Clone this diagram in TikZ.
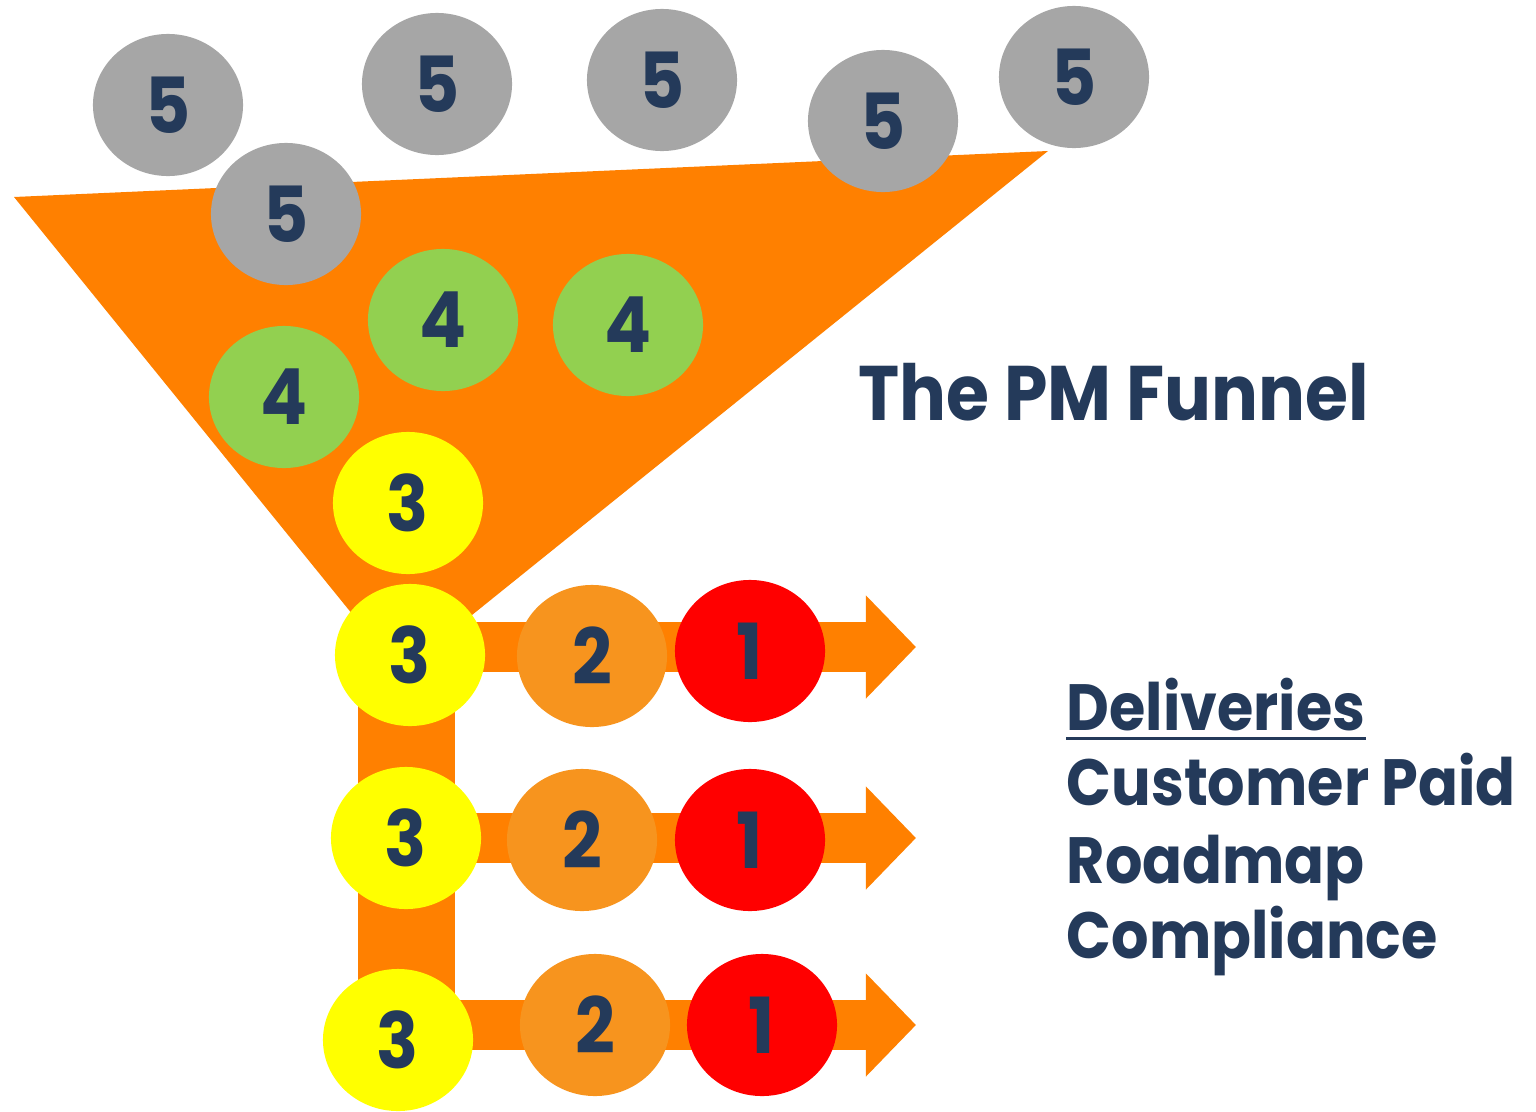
\documentclass[tikz,border=0pt]{standalone}
\usepackage{fontspec}
\setmainfont{Poppins}[FakeStretch=0.9]
\usepackage{xcolor}
\usepackage{tikz}
\usetikzlibrary{shapes.geometric,arrows.meta,backgrounds}
\definecolor{navy}{HTML}{243A5A}
\definecolor{funnelorange}{HTML}{FF8000}
\definecolor{stagegrey}{HTML}{A6A6A6}
\definecolor{stagegreen}{HTML}{92D050}
\definecolor{stageyellow}{HTML}{FFFF00}
\definecolor{stageorange}{HTML}{F7941E}
\definecolor{stagered}{HTML}{FF0000}
\tikzstyle{stage} = [ellipse, minimum width=1.5cm, minimum height=1.42cm, inner sep=0pt, text=navy, font=\fontsize{22}{22}\selectfont\bfseries]
\tikzstyle{idea} = [stage, fill=stagegrey]
\tikzstyle{scoped} = [stage, fill=stagegreen]
\tikzstyle{planned} = [stage, fill=stageyellow]
\tikzstyle{building} = [stage, fill=stageorange]
\tikzstyle{shipped} = [stage, fill=stagered]
\tikzstyle{arrow} = [line width=0.5cm, draw=funnelorange, -{Triangle[length=0.5cm,width=1cm]}]
\tikzstyle{heading} = [text=navy, inner sep=0pt, font=\fontsize{22}{22}\selectfont\bfseries]
\tikzstyle{listtext} = [text=navy, inner sep=0pt, align=left, font=\fontsize{18.6}{22}\selectfont\bfseries]

\begin{document}
\begin{tikzpicture}[x=0.01cm, y=-0.01cm]
	\useasboundingbox (0,0) rectangle (1536,1112);

	% ideas waiting at the top
	\node (g1) [idea] at (168,105) {5};
	\node (g2) [idea] at (437,84) {5};
	\node (g3) [idea] at (662,80) {5};
	\node (g4) [idea] at (883,121) {5};
	\node (g5) [idea] at (1074,77) {5};
	\node (g6) [idea] at (286,214) {5};

	\node (s1) [scoped] at (443,320) {4};
	\node (s2) [scoped] at (628,325) {4};
	\node (s3) [scoped] at (284,397) {4};

	\node (p0) [planned] at (408,503) {3};
	\node (p1) [planned] at (410,655) {3};
	\node (p2) [planned] at (406,838) {3};
	\node (p3) [planned] at (398,1040) {3};

	\node (b1) [building] at (592,656) {2};
	\node (b2) [building] at (582,840) {2};
	\node (b3) [building] at (595,1025) {2};

	\node (d1) [shipped] at (750,651) {1};
	\node (d2) [shipped] at (750,840) {1};
	\node (d3) [shipped] at (762,1025) {1};

	\coordinate (tip1) at (916,647);
	\coordinate (tip2) at (916,838);
	\coordinate (tip3) at (916,1025);

	\begin{pgfonlayer}{background}
		\fill [funnelorange] (14,197) -- (1048,151) -- (400,673) -- cycle;
		\fill [funnelorange] (358,640) rectangle (455,1049);
		\draw [arrow] (p1.center |- tip1) -- (tip1);
		\draw [arrow] (p2.center |- tip2) -- (tip2);
		\draw [arrow] (p3.center |- tip3) -- (tip3);
	\end{pgfonlayer}

	\node (title) [heading, anchor=base west] at (858,420) {The PM Funnel};

	\node (deliv) [listtext, anchor=base west] at (1066,730) {Deliveries};
	\draw [navy, line width=0.03cm] ([yshift=-0.08cm]deliv.base west) -- ([yshift=-0.08cm]deliv.base east);
	\node (kinds) [listtext, anchor=base west] at (1066,805) {Customer Paid};
	\node (road) [listtext, anchor=base west] at (1066,883) {Roadmap};
	\node (comp) [listtext, anchor=base west] at (1066,958) {Compliance};

\end{tikzpicture}
\end{document}
